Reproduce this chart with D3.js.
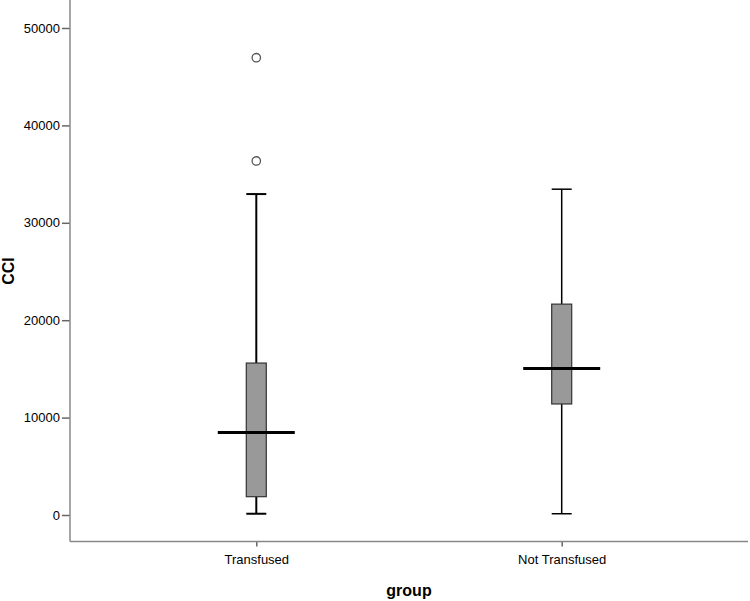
<!DOCTYPE html>
<html>
<head>
<meta charset="utf-8">
<script src="https://cdn.jsdelivr.net/npm/d3@7"></script>
<style>
  body { margin: 0; background: #fff; }
  svg { display: block; font-family: "Liberation Sans", Arial, sans-serif; }
</style>
</head>
<body>
<svg width="750" height="601"></svg>
<script>
// box plot data
const groups = ["Transfused", "Not Transfused"];
const whiskerLow = [130, 130];
const q1 = [1880, 11400];
const medians = [8480, 15050];
const q3 = [15600, 21650];
const whiskerHigh = [32950, 33450];
const outliers = [[46950, 36350], []];
const yTicks = [0, 10000, 20000, 30000, 40000, 50000];

const svg = d3.select("svg");
const left = 70, right = 748, axisY = 541.5;

const x = d3.scalePoint().domain(groups).range([left, right]).padding(0.61);
const y = d3.scaleLinear().domain([0, 50000]).range([515, 28]);

// y axis
const yAxis = svg.append("g")
    .attr("transform", "translate(" + left + ",0)")
    .call(d3.axisLeft(y).tickValues(yTicks).tickSize(8).tickPadding(2).tickFormat(d3.format("d")));
yAxis.select(".domain").remove();
yAxis.selectAll(".tick line").attr("stroke", "#666").attr("stroke-width", 1.5);
yAxis.selectAll(".tick text").attr("fill", "#000").style("font-size", "13px");

// x axis
const xAxis = svg.append("g")
    .attr("transform", "translate(0," + axisY + ")")
    .call(d3.axisBottom(x).tickSize(5).tickPadding(8));
xAxis.select(".domain").remove();
xAxis.selectAll(".tick line").attr("stroke", "#666").attr("stroke-width", 1.5);
xAxis.selectAll(".tick text").attr("fill", "#000").style("font-size", "13px");

// axis lines
svg.append("line").attr("x1", left).attr("x2", left).attr("y1", 0).attr("y2", axisY)
    .attr("stroke", "#888").attr("stroke-width", 1.5);
svg.append("line").attr("x1", left).attr("x2", right).attr("y1", axisY).attr("y2", axisY)
    .attr("stroke", "#888").attr("stroke-width", 1.5);

// axis titles
svg.append("text")
    .attr("transform", "translate(14," + 271 + ") rotate(-90)")
    .attr("text-anchor", "middle")
    .style("font-size", "16px").style("font-weight", "bold")
    .text("CCI");
svg.append("text")
    .attr("x", 409).attr("y", 596)
    .attr("text-anchor", "middle")
    .style("font-size", "16px").style("font-weight", "bold")
    .text("group");

// boxes
const boxW = 20, capW = 20, medW = 77;
const whiskerW = [2, 1.5];
const boxes = svg.append("g");
groups.forEach(function(g, i) {
  const cx = x(g);
  const b = boxes.append("g");
  b.append("line").attr("x1", cx).attr("x2", cx).attr("y1", y(whiskerHigh[i])).attr("y2", y(q3[i]))
      .attr("stroke", "#000").attr("stroke-width", whiskerW[i]);
  b.append("line").attr("x1", cx).attr("x2", cx).attr("y1", y(q1[i])).attr("y2", y(whiskerLow[i]))
      .attr("stroke", "#000").attr("stroke-width", whiskerW[i]);
  b.append("line").attr("x1", cx - capW / 2).attr("x2", cx + capW / 2)
      .attr("y1", y(whiskerHigh[i])).attr("y2", y(whiskerHigh[i]))
      .attr("stroke", "#000").attr("stroke-width", whiskerW[i]);
  b.append("line").attr("x1", cx - capW / 2).attr("x2", cx + capW / 2)
      .attr("y1", y(whiskerLow[i])).attr("y2", y(whiskerLow[i]))
      .attr("stroke", "#000").attr("stroke-width", whiskerW[i]);
  b.append("rect")
      .attr("x", cx - boxW / 2).attr("width", boxW)
      .attr("y", y(q3[i])).attr("height", y(q1[i]) - y(q3[i]))
      .attr("fill", "#999").attr("stroke", "#333").attr("stroke-width", 1.2);
  b.append("line").attr("x1", cx - medW / 2).attr("x2", cx + medW / 2)
      .attr("y1", y(medians[i])).attr("y2", y(medians[i]))
      .attr("stroke", "#000").attr("stroke-width", 3);
  b.selectAll("circle")
      .data(outliers[i])
      .enter().append("circle")
      .attr("cx", cx).attr("cy", function(d) { return y(d); })
      .attr("r", 4.2)
      .attr("fill", "#fff").attr("stroke", "#555").attr("stroke-width", 1.3);
});
</script>
</body>
</html>
